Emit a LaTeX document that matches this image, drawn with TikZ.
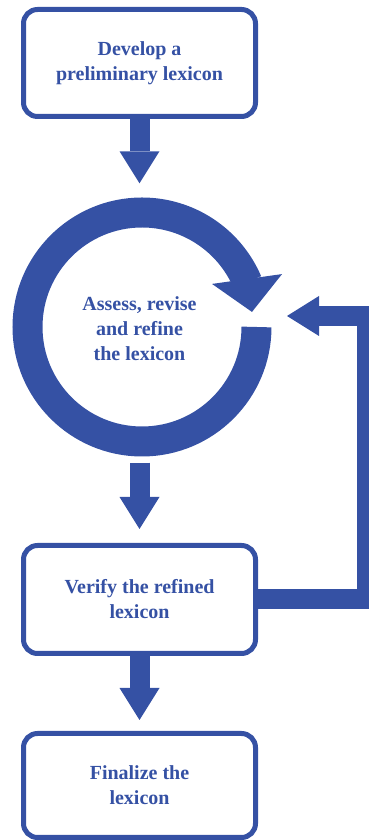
\documentclass[tikz,border=0pt]{standalone}
\usepackage{fontspec}
\setmainfont{Liberation Serif}
\usetikzlibrary{arrows.meta}
\definecolor{lexblue}{RGB}{53,81,164}
\begin{document}
\begin{tikzpicture}[x=1pt, y=1pt,
		font=\fontsize{20}{25}\selectfont\bfseries, text=lexblue,
		stepbox/.style={draw=lexblue, line width=5pt, rounded corners=14pt, align=center, minimum width=232pt, minimum height=107pt},
		flow/.style={draw=lexblue, line width=20pt, -{Triangle[length=32pt, width=40pt, line width=0pt]}}]
		\useasboundingbox (0, 0) rectangle (368, 840);
		\node[stepbox] (S_1) at (139.5, 777) {Develop a\\preliminary lexicon};
		\node[circle, inner sep=0pt, minimum size=259pt, align=center] (S_2) at (139.5, 511) {Assess, revise\\and refine\\the lexicon};
		\node[stepbox, minimum height=108pt] (S_3) at (139.5, 240.5) {Verify the refined\\lexicon};
		\node[stepbox, minimum height=104pt] (S_4) at (139.5, 54.5) {Finalize the\\lexicon};
		\coordinate (C) at (142, 513);
		\draw[lexblue, line width=30pt] (C) ++(114.5, 0) arc[start angle=0, end angle=-337, radius=114.5];
		\fill[lexblue, shift={(C)}] (31.6:82.2) -- (7.8:111) -- (20.7:149.7) -- cycle;
		\coordinate (B_1) at (367, 524);
		\coordinate (B_2) at (287, 524);
		\draw[flow] (S_1.south) -- ([yshift=16pt]S_2.north);
		\draw[flow] ([yshift=-4pt]S_2.south) -- ([yshift=14pt]S_3.north);
		\draw[flow] (S_3.south) -- ([yshift=11pt]S_4.north);
		\draw[flow] (S_3.east) -| (B_1) -- (B_2);
	\end{tikzpicture}
\end{document}
